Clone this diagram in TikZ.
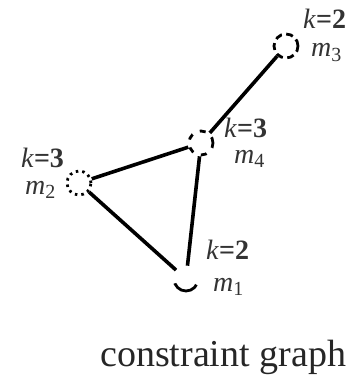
\documentclass[tikz,border=0pt]{standalone}
\usepackage{fontspec}
\setmainfont{Liberation Serif}
\usetikzlibrary{positioning}

\newcommand{\klab}[1]{{\itshape k}\textbf{=#1}}
\newcommand{\mlab}[1]{{\itshape m}\raisebox{-0.35ex}{\fontsize{20}{20}\selectfont #1}}

\begin{document}
\begin{tikzpicture}[
    x=1pt, y=-1pt,
    mach/.style={circle, draw, minimum size=24pt, inner sep=0pt, line width=2.8pt},
    link/.style={line width=3.6pt},
    lab/.style={anchor=base west, inner sep=0pt, font=\fontsize{28}{28}\selectfont, text=black!80},
  ]
  \useasboundingbox (0,0) rectangle (357,377);

  % machines
  \node[mach, dash pattern=on 27pt off 48.4pt, dash phase=33.5pt] (m1) at (186,279) {};
  \node[mach, dash pattern=on 2.5pt off 4pt]  (m2) at (79,183) {};
  \node[mach, dash pattern=on 7pt off 4.5pt]  (m3) at (286,46) {};
  \node[mach, dash pattern=on 6pt off 8pt]    (m4) at (201,143) {};

  % constraints
  \draw[link] (m3) -- (m4);
  \draw[link] (m4) -- (m2);
  \draw[link] (m4) -- (m1);
  \draw[link] (m2) -- (m1);

  % labels
  \node[lab] (k3) at (303,29)  {\klab{2}};
  \node[lab] (n3) at (311,57)  {\mlab{3}};
  \node[lab] (k4) at (224,137) {\klab{3}};
  \node[lab] (n4) at (234,163) {\mlab{4}};
  \node[lab] (k2) at (21,167)  {\klab{3}};
  \node[lab] (n2) at (25,194)  {\mlab{2}};
  \node[lab] (k1) at (206,259) {\klab{2}};
  \node[lab] (n1) at (213,291) {\mlab{1}};

  \node[lab, text=black!85, font=\fontsize{38}{38}\selectfont] (cap) at (100,366) {constraint graph};
\end{tikzpicture}
\end{document}
